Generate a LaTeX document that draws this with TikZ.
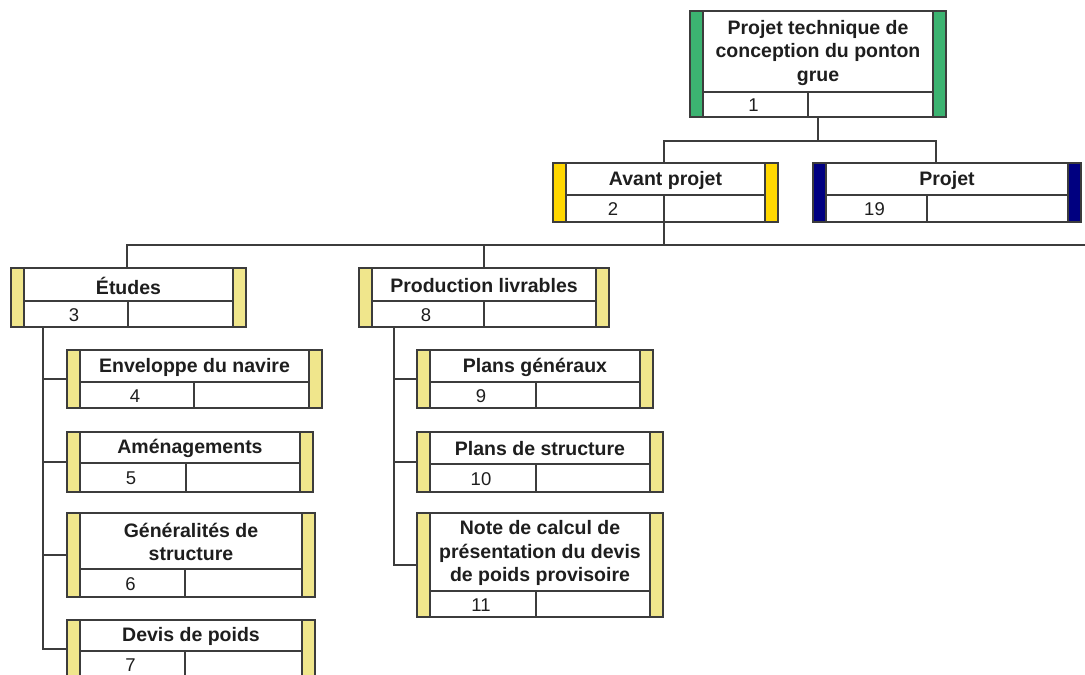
\documentclass[tikz,border=0pt]{standalone}
\usepackage{fontspec}
\setmainfont{Liberation Sans}
\usetikzlibrary{fit}
\definecolor{edge}{RGB}{60,60,60}
\definecolor{wbsgreen}{RGB}{60,179,113}
\definecolor{wbsgold}{RGB}{255,215,0}
\definecolor{wbsnavy}{RGB}{0,0,128}
\definecolor{wbskhaki}{RGB}{240,230,140}
\definecolor{ink}{RGB}{30,30,30}
\tikzset{
  boxfill/.style={fill=white, inner sep=0pt},
  frame/.style={draw=edge, line width=1.6pt},
  rule/.style={draw=edge, line width=1.4pt},
  conn/.style={draw=edge, line width=1.4pt},
  title/.style={font=\bfseries\fontsize{19.5}{23.5}\selectfont, align=center, text=ink, inner sep=0pt},
  num/.style={font=\fontsize{18.5}{20}\selectfont, inner sep=0pt, text=ink},
}
% #1 name, #2 left, #3 top, #4 right, #5 row, #6 bottom, #7 divider, #8 colour, #9 text; then {number}
\newcommand\wbsbox[9]{%
  \node[boxfill, fit={(#2,#3) (#4,#6)}] (#1) {};
  \fill[#8] (#2,#3) rectangle (#2+13,#6);
  \fill[#8] (#4-13,#3) rectangle (#4,#6);
  \draw[rule] (#2+13,#3) -- (#2+13,#6);
  \draw[rule] (#4-13,#3) -- (#4-13,#6);
  \draw[rule] (#2+13,#5) -- (#4-13,#5);
  \draw[rule] (#7,#5) -- (#7,#6);
  \draw[frame] (#1.north west) rectangle (#1.south east);
  \node[title] (#1-t) at ({(#2+#4)/2},{(#3+#5)/2+1}) {#9};
  \def\wbsL{#2}\def\wbsB{#6}\def\wbsR{#5}\def\wbsD{#7}\def\wbsN{#1}%
  \wbsnumber}
\newcommand\wbsnumber[1]{\node[num] (\wbsN-n) at ({(\wbsL+13+\wbsD)/2-2},{(\wbsR+\wbsB)/2+1}) {#1};}
\begin{document}
\begin{tikzpicture}[x=1pt,y=-1pt]
\clip (0,0) rectangle (1085,675);
\fill[white] (0,0) rectangle (1085,675);

% connector anchors
\coordinate (bus1) at (818,141);
\coordinate (bus1L) at (664,141);
\coordinate (bus1R) at (936,141);
\coordinate (bus2) at (664,245);
\coordinate (bus2L) at (127,245);
\coordinate (bus2M) at (484,245);
\coordinate (bus2R) at (1090,245);
\coordinate (spineE) at (43,0);
\coordinate (spineP) at (394,0);

% boxes
\wbsbox{root}{690}{11}{946}{92}{117}{808}{wbsgreen}{Projet technique de\\conception du ponton\\grue}{1}
\wbsbox{avant}{553}{163}{778}{195}{222}{664}{wbsgold}{Avant projet}{2}
\wbsbox{projet}{813}{163}{1081}{195}{222}{927}{wbsnavy}{Projet}{19}
\wbsbox{etudes}{11}{268}{246}{301}{327}{128}{wbskhaki}{Études}{3}
\wbsbox{prod}{359}{268}{609}{301}{327}{484}{wbskhaki}{Production livrables}{8}
\wbsbox{env}{67}{350}{322}{382}{408}{194}{wbskhaki}{Enveloppe du navire}{4}
\wbsbox{amen}{67}{432}{313}{463}{492}{186}{wbskhaki}{Aménagements}{5}
\wbsbox{gen}{67}{513}{315}{569}{597}{185}{wbskhaki}{Généralités de\\structure}{6}
\wbsbox{devis}{67}{620}{315}{651}{678}{185}{wbskhaki}{Devis de poids}{7}
\wbsbox{pg}{417}{350}{653}{382}{408}{536}{wbskhaki}{Plans généraux}{9}
\wbsbox{ps}{417}{432}{663}{464}{492}{536}{wbskhaki}{Plans de structure}{10}
\wbsbox{note}{417}{513}{663}{591}{617}{536}{wbskhaki}{Note de calcul de\\présentation du devis\\de poids provisoire}{11}

% level 1 -> 2
\draw[conn] (root.south -| bus1) -- (bus1);
\draw[conn] (avant.north -| bus1L) -- (bus1L) -- (bus1R) -- (projet.north -| bus1R);
% level 2 -> 3
\draw[conn] (avant.south -| bus2) -- (bus2);
\draw[conn] (etudes.north -| bus2L) -- (bus2L) -- (bus2R);
\draw[conn] (bus2M) -- (prod.north -| bus2M);
% Études children
\draw[conn] (etudes.south -| spineE) |- (env.west);
\draw[conn] (etudes.south -| spineE) |- (amen.west);
\draw[conn] (etudes.south -| spineE) |- (gen.west);
\draw[conn] (etudes.south -| spineE) |- (devis.west);
% Production children
\draw[conn] (prod.south -| spineP) |- (pg.west);
\draw[conn] (prod.south -| spineP) |- (ps.west);
\draw[conn] (prod.south -| spineP) |- (note.west);
\end{tikzpicture}
\end{document}
